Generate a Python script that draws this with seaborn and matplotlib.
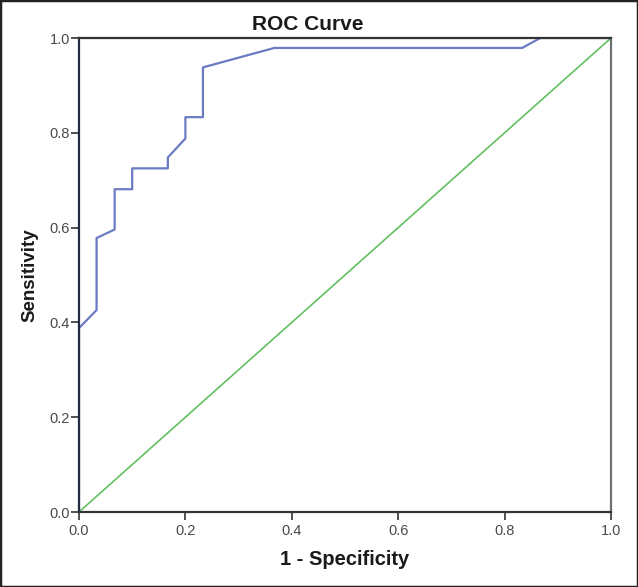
import matplotlib
matplotlib.use("Agg")
import matplotlib.pyplot as plt
import seaborn as sns
import pandas as pd
from matplotlib.patches import Rectangle

# ROC curve points
fpr = [0.0, 0.0, 0.033, 0.033, 0.067, 0.067, 0.100, 0.100, 0.167, 0.167,
       0.200, 0.200, 0.233, 0.233, 0.367, 0.833, 0.867, 1.0]
tpr = [0.0, 0.388, 0.426, 0.578, 0.596, 0.681, 0.681, 0.725, 0.725, 0.748,
       0.788, 0.833, 0.833, 0.938, 0.979, 0.979, 1.0, 1.0]
ref_x = [0.0, 1.0]
ref_y = [0.0, 1.0]
ticks = [0.0, 0.2, 0.4, 0.6, 0.8, 1.0]
tick_labels = ["0.0", "0.2", "0.4", "0.6", "0.8", "1.0"]

sns.set_theme(style="white")
plt.rcParams['font.family'] = ['Liberation Sans', 'DejaVu Sans']

fig = plt.figure(figsize=(6.38, 5.87), dpi=100)
ax = fig.add_axes([79/638, 1-512/587, (611-79)/638, (512-38)/587])

roc = pd.DataFrame({"fpr": fpr, "tpr": tpr})
ref = pd.DataFrame({"x": ref_x, "y": ref_y})
sns.lineplot(data=ref, x="x", y="y", ax=ax, color="#62c062", linewidth=1.2,
             sort=False, estimator=None)
sns.lineplot(data=roc, x="fpr", y="tpr", ax=ax, color="#6a7bc4", linewidth=1.6,
             sort=False, estimator=None)

ax.set_xlim(0, 1)
ax.set_ylim(0, 1)
ax.set_xticks(ticks)
ax.set_xticklabels(tick_labels)
ax.set_yticks(ticks)
ax.set_yticklabels(tick_labels)
ax.tick_params(axis="both", which="both", direction="out", length=5.5, width=1.2,
               colors="#333333", labelsize=10.5, labelcolor="#4a4a4a",
               bottom=True, left=True, top=False, right=False)
ax.tick_params(axis="x", pad=3)
ax.tick_params(axis="y", pad=1)
for side, sp in ax.spines.items():
    sp.set_color("#333333")
    sp.set_linewidth(1.6)
ax.spines["right"].set_color("#707070")
ax.spines["left"].set_color("#232a40")
ax.grid(False)

ax.set_xlabel("1 - Specificity", fontsize=14.5, fontweight="bold", labelpad=9,
              color="#1a1a1a")
ax.set_ylabel("Sensitivity", fontsize=13.5, fontweight="bold", labelpad=8,
              color="#1a1a1a")
ax.set_title("ROC Curve", fontsize=15, fontweight="bold", pad=6, x=0.43,
             color="#1a1a1a")

fig.patches.append(Rectangle((0, 0), 1, 1, transform=fig.transFigure,
                             fill=False, edgecolor="#222222", linewidth=2.5))

fig.savefig("out.png", dpi=100)
